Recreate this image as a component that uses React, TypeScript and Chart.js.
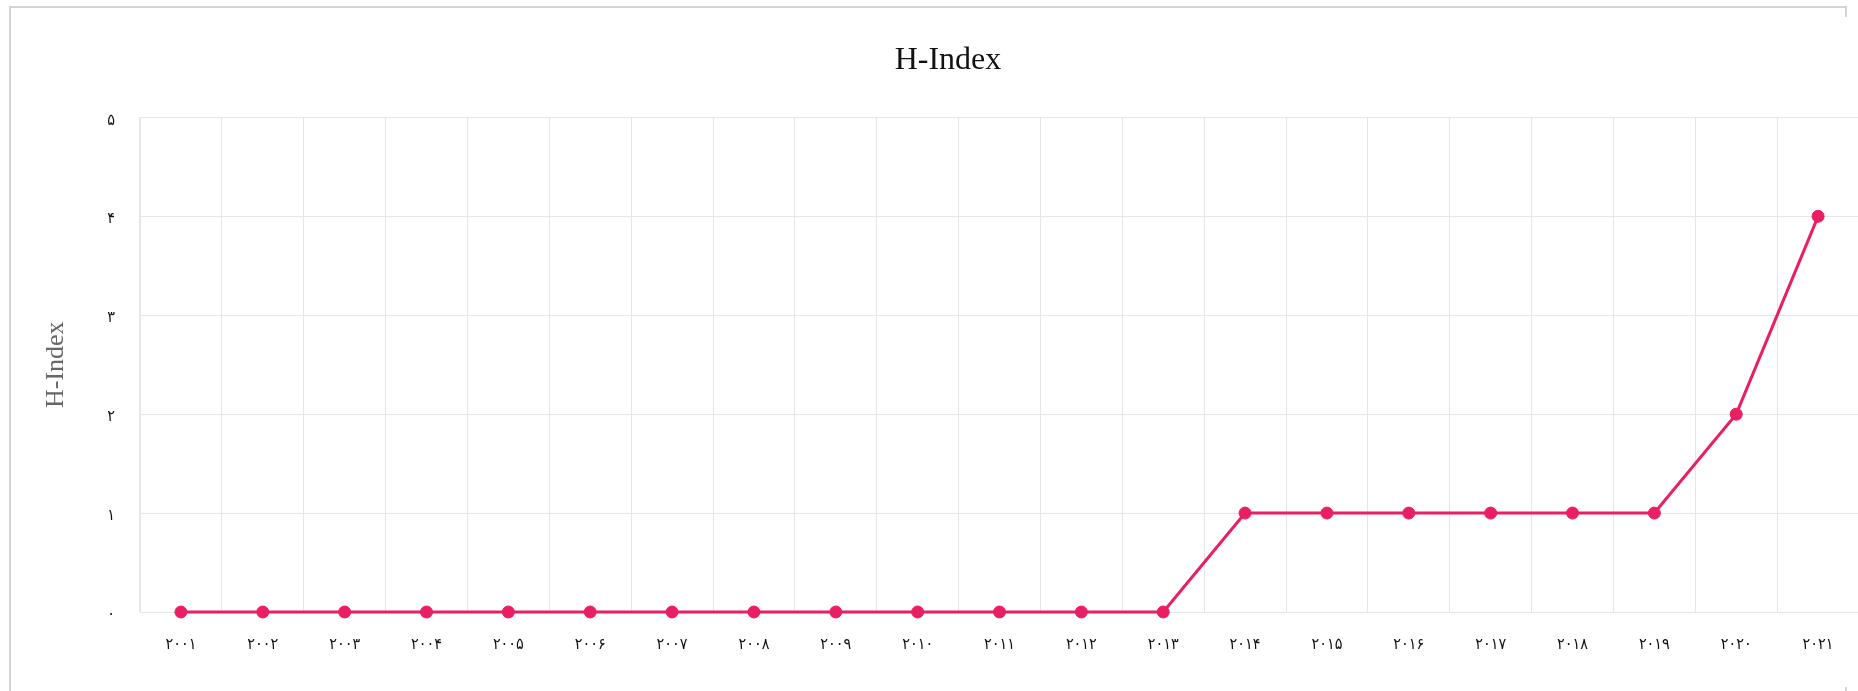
import React, { useEffect, useRef } from 'react';
import { Chart, registerables } from 'chart.js';

Chart.register(...registerables);

const years = [
  '۲۰۰۱', '۲۰۰۲', '۲۰۰۳', '۲۰۰۴', '۲۰۰۵', '۲۰۰۶', '۲۰۰۷', '۲۰۰۸', '۲۰۰۹', '۲۰۱۰',
  '۲۰۱۱', '۲۰۱۲', '۲۰۱۳', '۲۰۱۴', '۲۰۱۵', '۲۰۱۶', '۲۰۱۷', '۲۰۱۸', '۲۰۱۹', '۲۰۲۰', '۲۰۲۱',
];
const hIndex = [0, 0, 0, 0, 0, 0, 0, 0, 0, 0, 0, 0, 0, 1, 1, 1, 1, 1, 1, 2, 4];
const yTickLabels = ['۰', '۱', '۲', '۳', '۴', '۵'];
const chartTitle = 'H-Index';
const yAxisTitle = 'H-Index';

const PINK = '#e91e63';
const GRID = '#e6e6e6';
const SERIF = '"Liberation Serif", "Times New Roman", serif';
const DIGITS = '"DejaVu Sans Condensed", "DejaVu Sans", sans-serif';

export default function App() {
  const canvasRef = useRef<HTMLCanvasElement | null>(null);

  useEffect(() => {
    const canvas = canvasRef.current;
    if (!canvas) return;
    const chart = new Chart(canvas, {
      type: 'line',
      data: {
        labels: years,
        datasets: [
          {
            label: yAxisTitle,
            data: hIndex,
            borderColor: PINK,
            backgroundColor: PINK,
            borderWidth: 3,
            pointRadius: 6,
            pointHoverRadius: 6,
            pointBackgroundColor: PINK,
            pointBorderColor: PINK,
            pointBorderWidth: 1,
            tension: 0,
            fill: false,
            clip: false,
          },
        ],
      },
      options: {
        responsive: false,
        animation: false,
        devicePixelRatio: 1,
        layout: { padding: 0, autoPadding: false },
        plugins: {
          legend: { display: false },
          tooltip: { enabled: false },
          title: {
            display: true,
            text: chartTitle,
            color: '#111',
            font: { family: SERIF, size: 32, weight: 'normal' },
            padding: { top: 24, bottom: 38 },
          },
        },
        scales: {
          x: {
            offset: true,
            grid: { color: GRID, lineWidth: 1, drawTicks: false, offset: true },
            border: { color: GRID, width: 1 },
            ticks: {
              color: '#111',
              font: { family: DIGITS, size: 16 },
              padding: 23,
              maxRotation: 0,
              autoSkip: false,
            },
            afterFit: (scale: any) => {
              scale.height = 75;
              scale.paddingLeft = 0;
              scale.paddingRight = 0;
            },
          },
          y: {
            min: 0,
            max: 5,
            grid: { color: GRID, lineWidth: 1, drawTicks: false },
            border: { color: GRID, width: 1 },
            ticks: {
              stepSize: 1,
              color: '#111',
              font: { family: DIGITS, size: 16 },
              padding: 25,
              labelOffset: 3,
              callback: (v: any) => yTickLabels[Number(v)] ?? '',
            },
            title: {
              display: true,
              text: yAxisTitle,
              color: '#666',
              font: { family: SERIF, size: 26, weight: 'normal' },
              padding: { top: 4, bottom: 0 },
            },
            afterFit: (scale: any) => {
              scale.width = 103;
            },
          },
        },
      },
    });
    return () => chart.destroy();
  }, []);

  return (
    <div
      style={{
        position: 'fixed',
        left: 0,
        top: 0,
        width: 1858,
        height: 691,
        overflow: 'hidden',
        background: '#fff',
      }}
    >
      <div
        style={{
          position: 'absolute',
          left: 9,
          top: 6,
          width: 1834,
          height: 700,
          border: '2px solid #d4d4d4',
        }}
      />
      <canvas
        ref={canvasRef}
        width={1822}
        height={670}
        style={{
          position: 'absolute',
          left: 37,
          top: 17,
          width: 1822,
          height: 670,
          background: '#fff',
          display: 'block',
        }}
      />
    </div>
  );
}
